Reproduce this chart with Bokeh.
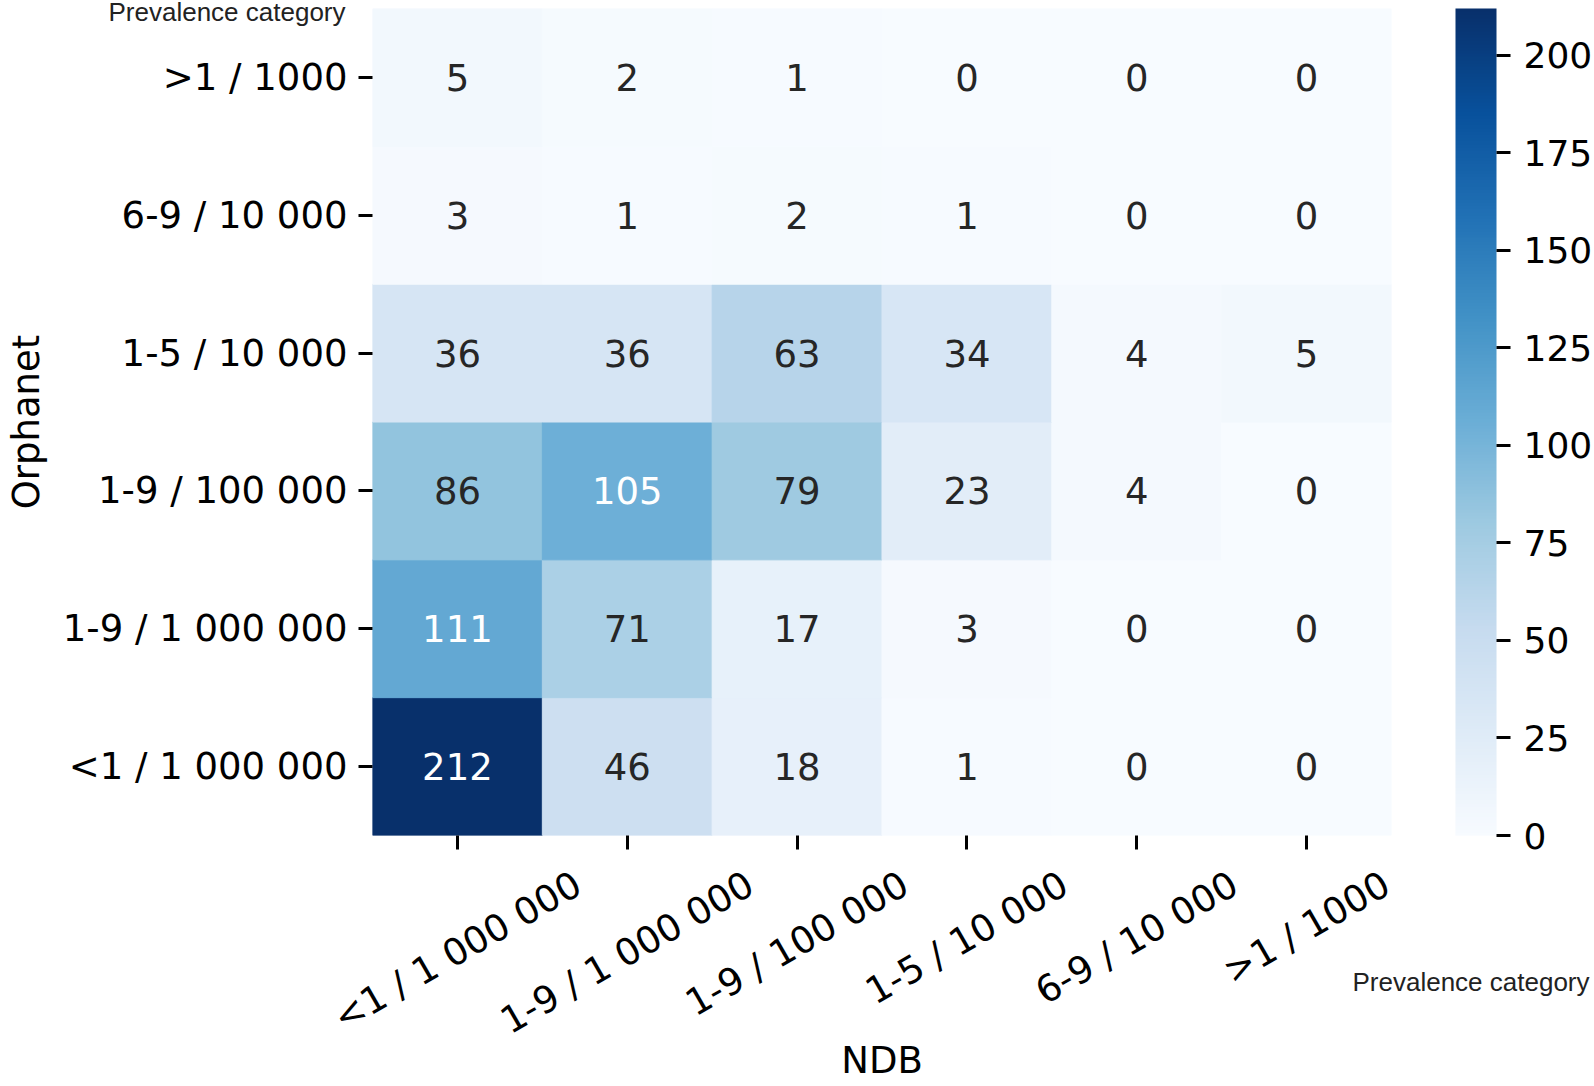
import math
from bokeh.plotting import figure
from bokeh.models import (ColumnDataSource, LinearColorMapper, ColorBar, FixedTicker,
                          LinearAxis, Range1d)
from bokeh.palettes import Blues256
from bokeh.core.properties import value
from bokeh.embed import file_html
from bokeh.resources import INLINE

# Prevalence categories (same for both axes)
categories = ["<1 / 1 000 000", "1-9 / 1 000 000", "1-9 / 100 000",
              "1-5 / 10 000", "6-9 / 10 000", ">1 / 1000"]

# Rows = Orphanet category, columns = NDB category (in `categories` order)
orphanet_lt1_1000000 = [212, 46, 18, 1, 0, 0]
orphanet_1_9_1000000 = [111, 71, 17, 3, 0, 0]
orphanet_1_9_100000 = [86, 105, 79, 23, 4, 0]
orphanet_1_5_10000 = [36, 36, 63, 34, 4, 5]
orphanet_6_9_10000 = [3, 1, 2, 1, 0, 0]
orphanet_gt1_1000 = [5, 2, 1, 0, 0, 0]

colorbar_ticks = [0, 25, 50, 75, 100, 125, 150, 175, 200]

rows = [orphanet_lt1_1000000, orphanet_1_9_1000000, orphanet_1_9_100000,
        orphanet_1_5_10000, orphanet_6_9_10000, orphanet_gt1_1000]

W, H = 1594, 1086
FRAME_L, FRAME_R, FRAME_T, FRAME_B = 372, 1391, 8, 835
palette = list(reversed(Blues256))
vmax = max(max(r) for r in rows)
mapper = LinearColorMapper(palette=palette, low=0, high=vmax)


def text_color(v):
    idx = min(255, int(v / vmax * 256))
    h = palette[idx].lstrip("#")
    rgb = [int(h[i:i + 2], 16) / 255 for i in (0, 2, 4)]
    lin = [c / 12.92 if c <= 0.03928 else ((c + 0.055) / 1.055) ** 2.4 for c in rgb]
    lum = 0.2126 * lin[0] + 0.7152 * lin[1] + 0.0722 * lin[2]
    return "#262626" if lum > 0.408 else "#ffffff"


n = len(categories)
xs, ys, vs, labels, tcs = [], [], [], [], []
for i, row in enumerate(rows):
    for j, v in enumerate(row):
        xs.append(j + 0.5)          # NDB column index (cell centre)
        ys.append(categories[i])
        vs.append(v)
        labels.append(str(v))
        tcs.append(text_color(v))

src = ColumnDataSource(dict(x=xs, y=ys, v=vs, label=labels, tc=tcs))

FONT = "DejaVu Sans"
FSN = 37
FS = f"{FSN}px"

p = figure(width=W, height=H, x_range=Range1d(0, n), y_range=categories,
           x_axis_type=None, output_backend="svg", toolbar_location=None,
           min_border_left=FRAME_L, min_border_right=W - FRAME_R,
           min_border_top=FRAME_T, min_border_bottom=H - FRAME_B)

p.rect(x="x", y="y", width=1, height=1, source=src,
       fill_color={"field": "v", "transform": mapper},
       line_color={"field": "v", "transform": mapper}, line_width=1)
p.text(x="x", y="y", text="label", source=src, text_align="center",
       text_baseline="middle", text_font_size=FS, text_color="tc",
       text_font=value(FONT))

p.grid.grid_line_color = None
p.outline_line_color = None
p.background_fill_color = "white"

# ---- y axis (Orphanet)
ya = p.yaxis[0]
ya.axis_line_color = None
ya.major_tick_out = 14
ya.major_tick_in = 0
ya.major_tick_line_width = 3
ya.major_tick_line_color = "black"
ya.major_label_text_font = FONT
ya.major_label_text_font_size = FS
ya.major_label_text_color = "black"
ya.major_label_standoff = 11
ya.axis_label = "Orphanet"
ya.axis_label_text_font = FONT
ya.axis_label_text_font_size = FS
ya.axis_label_text_font_style = "normal"
ya.axis_label_text_color = "black"
ya.axis_label_standoff = 12

# ---- x axis (NDB): ticks (minor) at cell centres, rotated labels centred on them
centers = [j + 0.5 for j in range(n)]
ADV = {"<": 0.838, ">": 0.838, "-": 0.361, " ": 0.318, "/": 0.337}  # DejaVu em widths
colw = (FRAME_R - FRAME_L) / n
ang = math.pi / 6
label_pos = []
for j, cat in enumerate(categories):
    w = sum(ADV.get(ch, 0.636) for ch in cat) * FSN
    label_pos.append(round(centers[j] + (w / 2) * math.cos(ang) / colw, 4))

xa = LinearAxis(ticker=FixedTicker(ticks=label_pos, minor_ticks=centers),
                major_label_overrides={pos: cat for pos, cat in zip(label_pos, categories)})
xa.axis_line_color = None
xa.major_tick_out = 0
xa.major_tick_in = 0
xa.major_tick_line_color = None
xa.minor_tick_out = 14
xa.minor_tick_in = 0
xa.minor_tick_line_width = 3
xa.minor_tick_line_color = "black"
xa.major_label_orientation = ang
xa.major_label_text_font = FONT
xa.major_label_text_font_size = FS
xa.major_label_text_color = "black"
xa.major_label_standoff = 32
xa.axis_label = "NDB"
xa.axis_label_text_font = FONT
xa.axis_label_text_font_size = FS
xa.axis_label_text_font_style = "normal"
xa.axis_label_text_color = "black"
xa.axis_label_standoff = -25
p.add_layout(xa, "below")

# ---- colour bar
cb = ColorBar(color_mapper=mapper, ticker=FixedTicker(ticks=colorbar_ticks),
              width=41, height=FRAME_B - FRAME_T, padding=0, margin=0,
              location=(1083, 0),
              major_tick_out=14, major_tick_in=0, major_tick_line_color="black",
              major_tick_line_width=3, major_label_text_font=FONT,
              major_label_text_font_size="36px", major_label_text_color="black",
              label_standoff=13, bar_line_color=None, border_line_color=None,
              background_fill_color=None, orientation="vertical")
p.add_layout(cb)


# ---- corner notes ("Prevalence category"), as titles of bar-less colour-bar boxes
def note(x_canvas, baseline_canvas):
    return ColorBar(color_mapper=mapper, ticker=FixedTicker(ticks=[]),
                    width=1, height=1, padding=0, margin=0, scale_alpha=0,
                    location=(x_canvas - FRAME_L, FRAME_B - baseline_canvas - 7),
                    title="Prevalence category", title_standoff=0,
                    title_text_font="Liberation Sans", title_text_font_size="26px",
                    title_text_font_style="normal", title_text_color="#222222",
                    major_tick_line_color=None, minor_tick_line_color=None,
                    bar_line_color=None, border_line_color=None,
                    background_fill_color=None, orientation="horizontal")


p.add_layout(note(108, 20))
p.add_layout(note(1352, 990))

open("out.html", "w").write(file_html(p, INLINE))
